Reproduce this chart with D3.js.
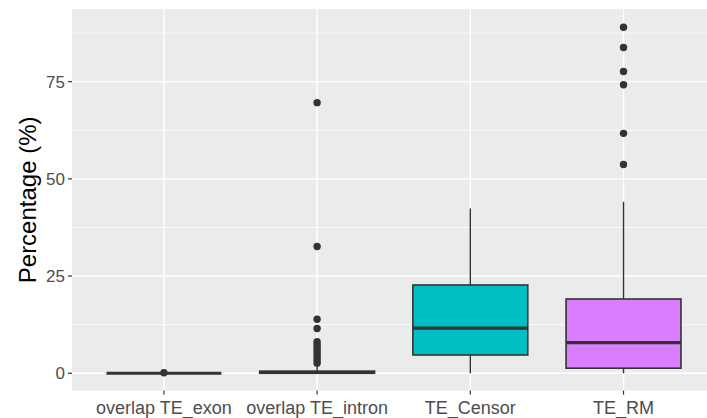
<!DOCTYPE html>
<html><head><meta charset="utf-8">
<script src="https://cdn.jsdelivr.net/npm/d3@7"></script>
<style>body{margin:0;background:#fff}svg{display:block}</style>
</head><body><svg id="c" width="707" height="418"></svg>
<script>
const categories = ["overlap TE_exon","overlap TE_intron","TE_Censor","TE_RM"];
const fills = ["#F8766D","#7CAE00","#00BFC4","#DA7EFF"];
// box stats: [whiskerLow, q1, median, q3, whiskerHigh]
const boxStats = [
  [0, 0, 0, 0, 0],
  [0, 0, 0.2, 0.55, 2.1],
  [0, 4.7, 11.6, 22.7, 42.4],
  [0, 1.3, 7.9, 19.1, 44.1]
];
const outliers = [
  [0.15],
  [69.6, 32.6, 13.9, 11.5, 8.1, 7.4, 6.7, 6.0, 5.3, 4.6, 3.9, 3.2, 2.6],
  [],
  [89.0, 83.8, 77.6, 74.2, 61.7, 53.7]
];
const yTicks = [0, 25, 50, 75];
const yMinor = [12.5, 37.5, 62.5, 87.5];
const yTitle = "Percentage (%)";

(function(){
const svg = d3.select("#c");
const pLeft = 72, pTop = 9.1, pBottom = 390.6;
const band = 153.2;
const pRight = pLeft + band * 4.2;
const dataMax = 89.2, dataMin = 0, ex = (dataMax - dataMin) * 0.05;
const y = d3.scaleLinear().domain([dataMin - ex, dataMax + ex]).range([pBottom, pTop]);
const x = d3.scaleBand().domain(categories).range([pLeft, pRight]).paddingOuter(0.1).paddingInner(0);
const cx = c => x(c) + x.bandwidth() / 2;
const bw = x.bandwidth() * 0.75;

svg.append("rect").attr("x", pLeft).attr("y", pTop).attr("width", pRight - pLeft).attr("height", pBottom - pTop).attr("fill", "#EBEBEB");
svg.selectAll(".minor").data(yMinor).join("line")
  .attr("x1", pLeft).attr("x2", pRight).attr("y1", d => y(d)).attr("y2", d => y(d))
  .attr("stroke", "#fff").attr("stroke-width", 0.7);
svg.selectAll(".major").data(yTicks).join("line")
  .attr("x1", pLeft).attr("x2", pRight).attr("y1", d => y(d)).attr("y2", d => y(d))
  .attr("stroke", "#fff").attr("stroke-width", 1.4);
svg.selectAll(".vmajor").data(categories).join("line")
  .attr("x1", d => cx(d)).attr("x2", d => cx(d)).attr("y1", pTop).attr("y2", pBottom)
  .attr("stroke", "#fff").attr("stroke-width", 1.4);

const outline = "#333333";
categories.forEach((c, i) => {
  const s = boxStats[i], xc = cx(c);
  const g = svg.append("g");
  g.append("line").attr("x1", xc).attr("x2", xc).attr("y1", y(s[3])).attr("y2", y(s[4])).attr("stroke", outline).attr("stroke-width", 1.4);
  g.append("line").attr("x1", xc).attr("x2", xc).attr("y1", y(s[0])).attr("y2", y(s[1])).attr("stroke", outline).attr("stroke-width", 1.4);
  g.append("rect").attr("x", xc - bw / 2).attr("width", bw)
    .attr("y", y(s[3])).attr("height", Math.max(0, y(s[1]) - y(s[3])))
    .attr("fill", fills[i]).attr("stroke", outline).attr("stroke-width", 1.6);
  g.append("line").attr("x1", xc - bw / 2).attr("x2", xc + bw / 2).attr("y1", y(s[2])).attr("y2", y(s[2]))
    .attr("stroke", outline).attr("stroke-width", 3.2);
  g.selectAll("circle").data(outliers[i]).join("circle")
    .attr("cx", xc).attr("cy", d => y(d)).attr("r", 3.7).attr("fill", outline);
});

const tickCol = "#333333", labCol = "#4D4D4D";
svg.selectAll(".yt").data(yTicks).join("line")
  .attr("x1", pLeft - 4).attr("x2", pLeft).attr("y1", d => y(d)).attr("y2", d => y(d))
  .attr("stroke", tickCol).attr("stroke-width", 1.2);
svg.selectAll(".yl").data(yTicks).join("text")
  .attr("x", pLeft - 7).attr("y", d => y(d)).attr("dy", "0.36em").attr("text-anchor", "end")
  .attr("font-family", "Liberation Sans, Arial, sans-serif").attr("font-size", 17).attr("fill", labCol)
  .text(d => d);
svg.selectAll(".xt").data(categories).join("line")
  .attr("x1", d => cx(d)).attr("x2", d => cx(d)).attr("y1", pBottom).attr("y2", pBottom + 4)
  .attr("stroke", tickCol).attr("stroke-width", 1.2);
svg.selectAll(".xl").data(categories).join("text")
  .attr("x", d => cx(d)).attr("y", pBottom + 16.5).attr("dy", "0.36em").attr("text-anchor", "middle")
  .attr("font-family", "Liberation Sans, Arial, sans-serif").attr("font-size", 18).attr("fill", labCol)
  .text(d => d);
svg.append("text").attr("transform", `translate(36,${(pTop + pBottom) / 2}) rotate(-90)`)
  .attr("text-anchor", "middle")
  .attr("font-family", "Liberation Sans, Arial, sans-serif").attr("font-size", 24).attr("fill", "#000")
  .text(yTitle);
})();
</script></body></html>
